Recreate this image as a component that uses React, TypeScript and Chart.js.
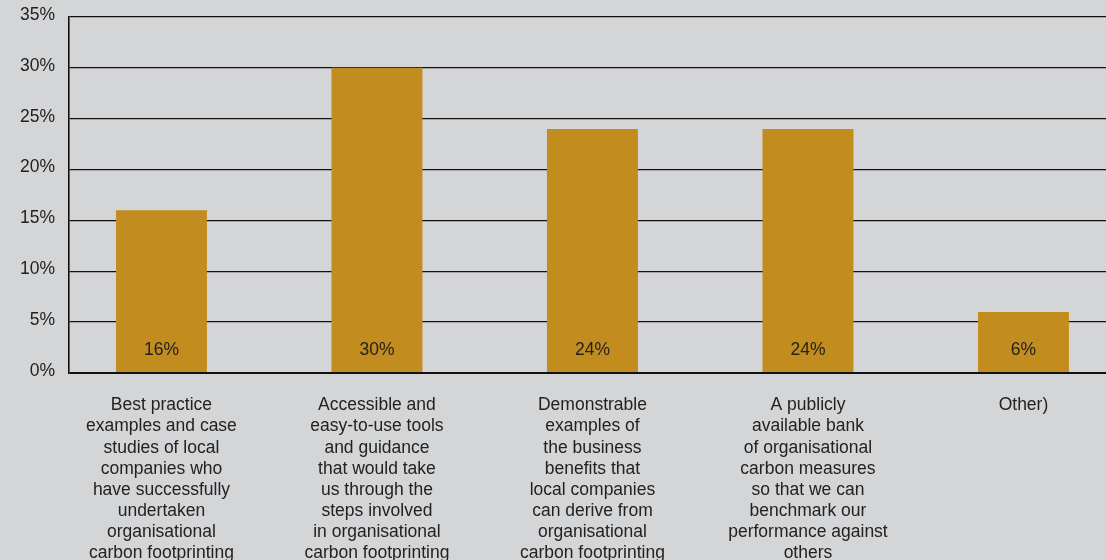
import React, { useEffect, useRef } from "react";
import { Chart, registerables } from "chart.js";

Chart.register(...registerables);

const categories: string[][] = [
  ["Best practice", "examples and case", "studies of local", "companies who", "have successfully", "undertaken", "organisational", "carbon footprinting"],
  ["Accessible and", "easy-to-use tools", "and guidance", "that would take", "us through the", "steps involved", "in organisational", "carbon footprinting"],
  ["Demonstrable", "examples of", "the business", "benefits that", "local companies", "can derive from", "organisational", "carbon footprinting"],
  ["A publicly", "available bank", "of organisational", "carbon measures", "so that we can", "benchmark our", "performance against", "others"],
  ["Other)"],
];
const values: number[] = [16, 30, 24, 24, 6];
const yTicks: number[] = [0, 5, 10, 15, 20, 25, 30, 35];

const BG = "#d4d5d7";
const BAR = "#c28d1e";
const TEXT = "#222222";
const FONT = "'Liberation Sans', Arial, Helvetica, sans-serif";

export default function App() {
  const ref = useRef<HTMLCanvasElement | null>(null);

  useEffect(() => {
    if (!ref.current) return;
    const bgPlugin = {
      id: "bg",
      beforeDraw(chart: any) {
        const { ctx, width, height } = chart;
        ctx.save();
        ctx.fillStyle = BG;
        ctx.fillRect(0, 0, width, height);
        ctx.restore();
      },
    };
    const labelPlugin = {
      id: "barLabels",
      afterDatasetsDraw(chart: any) {
        const { ctx } = chart;
        const meta = chart.getDatasetMeta(0);
        ctx.save();
        ctx.font = `17.5px ${FONT}`;
        ctx.fillStyle = TEXT;
        ctx.textAlign = "center";
        ctx.textBaseline = "middle";
        meta.data.forEach((el: any, i: number) => {
          ctx.fillText(`${values[i]}%`, el.x, el.base - 22);
        });
        ctx.restore();
      },
    };
    const chart = new Chart(ref.current, {
      type: "bar",
      data: {
        datasets: [
          {
            data: values.map((v, i) => ({ x: i, y: v })),
            backgroundColor: BAR,
            borderWidth: 0,
            barPercentage: 0.422,
            categoryPercentage: 1,
          },
        ],
      },
      options: {
        animation: false,
        responsive: false,
        events: [],
        layout: { padding: { top: 17, left: 0, right: 0, bottom: 0 } },
        plugins: { legend: { display: false }, tooltip: { enabled: false } },
        scales: {
          x: {
            type: "linear",
            offset: false,
            min: -0.429,
            max: 4.383,
            grid: { display: false, drawTicks: false, offset: false },
            border: { display: false },
            afterFit: (scale: any) => {
              scale.height = 187;
              scale.paddingLeft = 0;
              scale.paddingRight = 0;
            },
            ticks: {
              stepSize: 1,
              includeBounds: false,
              autoSkip: false,
              maxRotation: 0,
              padding: 22,
              color: TEXT,
              font: { family: FONT, size: 17.5, lineHeight: 1.205 },
              callback: (v: any) => (Number.isInteger(v) && categories[v] ? categories[v] : ""),
            },
          },
          y: {
            min: 0,
            max: 35,
            afterFit: (scale: any) => {
              scale.width = 69;
              scale.paddingTop = 0;
              scale.paddingBottom = 0;
            },
            afterBuildTicks: (scale: any) => {
              scale.ticks = yTicks.map((v) => ({ value: v }));
            },
            grid: {
              color: "#111111",
              lineWidth: (ctx: any) => (ctx.tick && ctx.tick.value === 0 ? 2 : 1.3),
              drawTicks: false,
            },
            border: { display: true, color: "#111111", width: 1.6 },
            ticks: {
              padding: 14,
              labelOffset: -2,
              color: TEXT,
              font: { family: FONT, size: 17.5 },
              callback: (v: any) => `${v}%`,
            },
          },
        },
      },
      plugins: [bgPlugin, labelPlugin],
    });
    return () => chart.destroy();
  }, []);

  return (
    <div style={{ position: "fixed", left: 0, top: 0, width: 1106, height: 560, overflow: "hidden", background: BG }}>
      <canvas ref={ref} width={1106} height={560} style={{ display: "block" }} />
    </div>
  );
}
